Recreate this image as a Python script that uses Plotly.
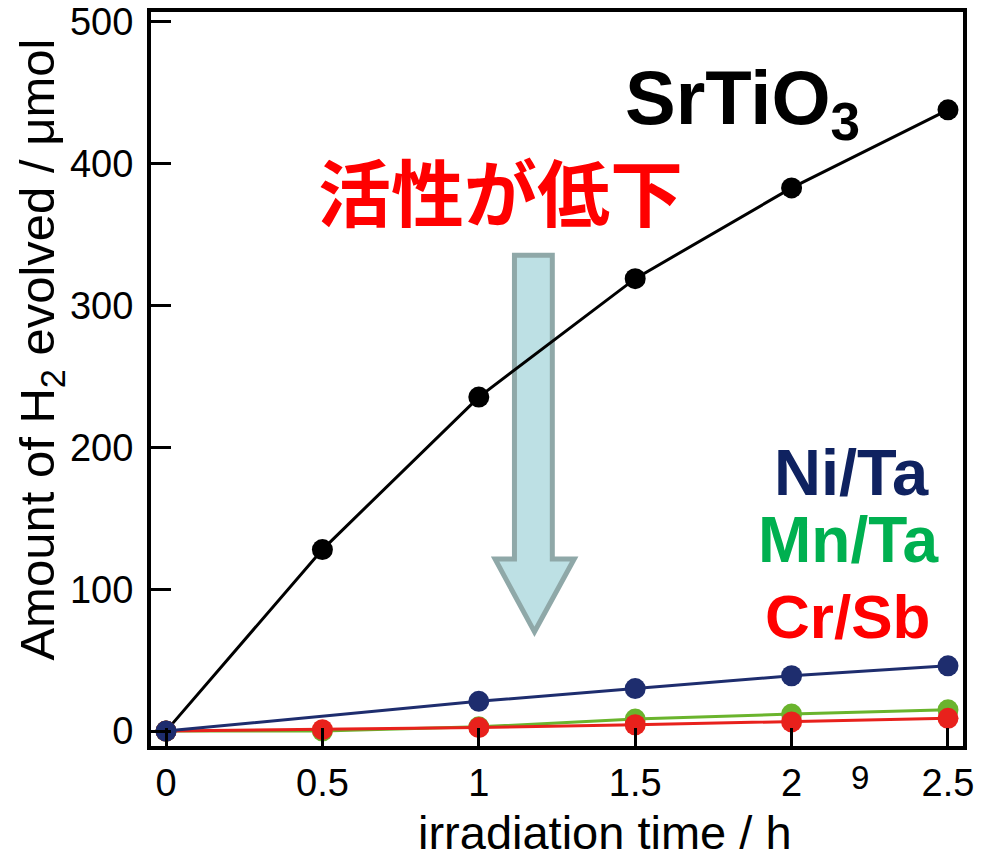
import plotly.graph_objects as go

time_h = [0, 0.5, 1, 1.5, 2, 2.5]
srtio3 = [0, 128, 235.5, 319, 383, 438]
nita_time = [0, 1, 1.5, 2, 2.5]
nita = [0, 21, 30, 39, 46]
mnta = [0, 0, 3, 8.5, 12, 15]
crsb = [0, 1, 2.5, 4.5, 6.5, 9]

x_ticks = [0, 0.5, 1, 1.5, 2, 2.5]
x_tick_labels = ["0", "0.5", "1", "1.5", "2", "2.5"]
y_ticks = [0, 100, 200, 300, 400, 500]

BLACK = "#000000"
NAVY = "#1e2d6e"
GREEN = "#6ab42d"
RED = "#e8211c"

fig = go.Figure()

def add(x, y, color):
    fig.add_trace(go.Scatter(x=x, y=y, mode="lines+markers",
                             line=dict(color=color, width=3),
                             marker=dict(color=color, size=21),
                             showlegend=False, cliponaxis=False))

add(time_h, srtio3, BLACK)
add(time_h, mnta, GREEN)
add(time_h, crsb, RED)
add(nita_time, nita, NAVY)

# arrow shape (data coordinates)
sx0, sx1, sy0, sy1 = 1.114, 1.235, 335.5, 121.3
hx0, hx1, tipx, tipy = 1.052, 1.305, 1.178, 70
path = (f"M {sx0},{sy0} L {sx1},{sy0} L {sx1},{sy1} L {hx1},{sy1} "
        f"L {tipx},{tipy} L {hx0},{sy1} L {sx0},{sy1} Z")
fig.add_shape(type="path", path=path, xref="x", yref="y",
              fillcolor="#bde0e4", line=dict(color="#8fa8a8", width=5),
              layer="below")

font_main = "Liberation Sans, Arial, sans-serif"

annotations = [
    dict(x=1.462, y=443, text="<b>SrTiO<sub>3</sub></b>", font=dict(size=76, color=BLACK, family=font_main),
         xanchor="left", yanchor="middle", showarrow=False),
    dict(x=1.068, y=382, text="<b>活性が低下</b>", font=dict(size=73, color="#ff0000", family="Noto Sans CJK JP"),
         xanchor="center", yanchor="middle", showarrow=False),
    dict(x=2.447, y=182, text="<b>Ni/Ta</b>", font=dict(size=65, color="#0f2260", family=font_main),
         xanchor="right", yanchor="middle", showarrow=False),
    dict(x=2.478, y=134.5, text="<b>Mn/Ta</b>", font=dict(size=64, color="#00b050", family=font_main),
         xanchor="right", yanchor="middle", showarrow=False),
    dict(x=2.450, y=80.6, text="<b>Cr/Sb</b>", font=dict(size=62, color="#ff0000", family=font_main),
         xanchor="right", yanchor="middle", showarrow=False),
    dict(xref="x", yref="paper", x=2.219, y=0, yshift=-31, text="9",
         font=dict(size=33, color=BLACK, family=font_main),
         xanchor="center", yanchor="middle", showarrow=False),
    dict(xref="x", yref="paper", x=1.403, y=0, yshift=-86,
         text="irradiation time / h", font=dict(size=47, color=BLACK, family=font_main),
         xanchor="center", yanchor="middle", showarrow=False),
    dict(xref="paper", x=0, xshift=-110, y=269,
         text="Amount of H<sub>2</sub> evolved / μmol", font=dict(size=49, color=BLACK, family=font_main),
         textangle=-90, xanchor="center", yanchor="middle", showarrow=False),
]

fig.update_layout(
    width=983, height=849,
    margin=dict(l=151, r=20, t=12, b=103, pad=0),
    paper_bgcolor="white", plot_bgcolor="white",
    annotations=annotations,
    font=dict(family=font_main, color=BLACK),
)
fig.update_xaxes(range=[-0.048, 2.548], tickvals=x_ticks, ticktext=x_tick_labels,
                 ticks="inside", ticklen=18, tickwidth=3, tickcolor=BLACK,
                 ticklabeloverflow="allow", automargin=False,
                 showline=True, linewidth=4, linecolor=BLACK, mirror=True,
                 showgrid=False, zeroline=False,
                 tickfont=dict(size=38, family=font_main, color=BLACK))
fig.update_yaxes(range=[-10.5, 507], tickvals=y_ticks,
                 ticks="inside", ticklen=20, tickwidth=3, tickcolor=BLACK,
                 ticklabelstandoff=6, ticklabeloverflow="allow", automargin=False,
                 showline=True, linewidth=4, linecolor=BLACK, mirror=True,
                 showgrid=False, zeroline=False,
                 tickfont=dict(size=38, family=font_main, color=BLACK))

fig.write_html("out.html", config={"displayModeBar": False},
               post_script="document.body.style.margin='0';document.body.style.overflow='hidden';")
